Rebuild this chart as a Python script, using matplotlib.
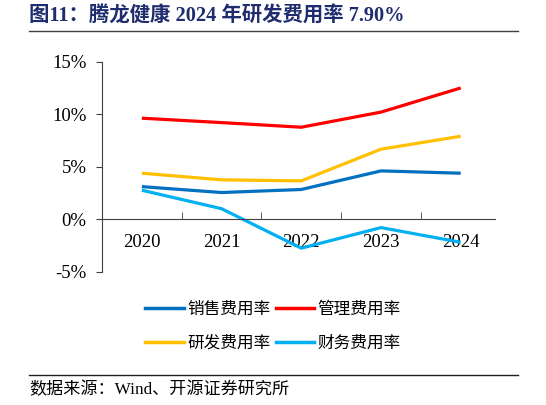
import matplotlib
matplotlib.use("Agg")
import matplotlib.pyplot as plt
from matplotlib.lines import Line2D

plt.rcParams['font.family'] = ['Liberation Serif', 'Noto Sans CJK SC', 'DejaVu Sans']

years = ['2020', '2021', '2022', '2023', '2024']
sales_rate = [3.10, 2.54, 2.83, 4.60, 4.38]
admin_rate = [9.62, 9.20, 8.76, 10.20, 12.50]
rd_rate = [4.38, 3.75, 3.65, 6.67, 7.90]
fin_rate = [2.76, 1.00, -2.76, -0.80, -2.20]
series_names = ['销售费用率', '管理费用率', '研发费用率', '财务费用率']
y_ticks = [-5, 0, 5, 10, 15]
y_labels = ['-5%', '0%', '5%', '10%', '15%']

colors = ['#0070C0', '#FF0000', '#FFC000', '#00B0F0']

fig = plt.figure(figsize=(5.46, 4.05), dpi=100)
ax = fig.add_axes([102/546, 1-271.7/405, (495-102)/546, (271.7-61.7)/405])

# spine position first, it resets the ticks
ax.spines['top'].set_visible(False)
ax.spines['right'].set_visible(False)
ax.spines['bottom'].set_position(('data', 0))
ax.spines['bottom'].set_color('#404040')
ax.spines['left'].set_color('#404040')
ax.spines['bottom'].set_linewidth(0.8)
ax.spines['left'].set_linewidth(0.8)

x = list(range(len(years)))
for vals, c in zip([sales_rate, admin_rate, rd_rate, fin_rate], colors):
    ax.plot(x, vals, color=c, lw=2.3, solid_capstyle='butt')

ax.set_xlim(-0.5, 4.43)
ax.set_ylim(-5, 15)
ax.set_yticks(y_ticks)
ax.set_yticklabels(y_labels)
ax.set_xticks(x)
ax.set_xticklabels(years)
ax.set_xticks([0.5, 1.5, 2.5, 3.5], minor=True)
ax.tick_params(axis='x', which='major', length=0, pad=11, labelsize=13.5)
ax.tick_params(axis='x', which='minor', direction='in', length=5, color='#404040')
ax.tick_params(axis='y', direction='out', length=4, color='#404040', pad=7, labelsize=13.5)

# legend filled column-wise, so reorder to get rows: sales/admin, rd/fin
order = [0, 2, 1, 3]
handles = [Line2D([0], [0], color=colors[i], lw=2.5) for i in order]
labels = [series_names[i] for i in order]
fig.legend(handles, labels, ncol=2, loc='center', bbox_to_anchor=(273/546, 1-326/405),
           frameon=False, handlelength=2.3, handletextpad=0.2, columnspacing=0.35,
           labelspacing=1.0, prop={'family': ['Noto Sans CJK SC'], 'size': 12})

# title and source
fig.text(29/546, 1-17/405, '图11：腾龙健康 2024 年研发费用率 7.90%', color='#1F2D6E',
         fontsize=14.7, fontweight='bold', va='center', ha='left',
         family=['Liberation Serif', 'Noto Sans CJK SC'])
fig.add_artist(Line2D([29/546, 518/546], [1-31/405, 1-31/405], color='#404040', lw=1))
fig.add_artist(Line2D([29/546, 518/546], [1-375/405, 1-375/405], color='#202020', lw=1))
fig.text(29/546, 1-390/405, '数据来源：Wind、开源证券研究所', fontsize=12.3, va='center', ha='left',
         family=['Liberation Serif', 'Noto Sans CJK SC'])

fig.savefig('out.png', dpi=100)
